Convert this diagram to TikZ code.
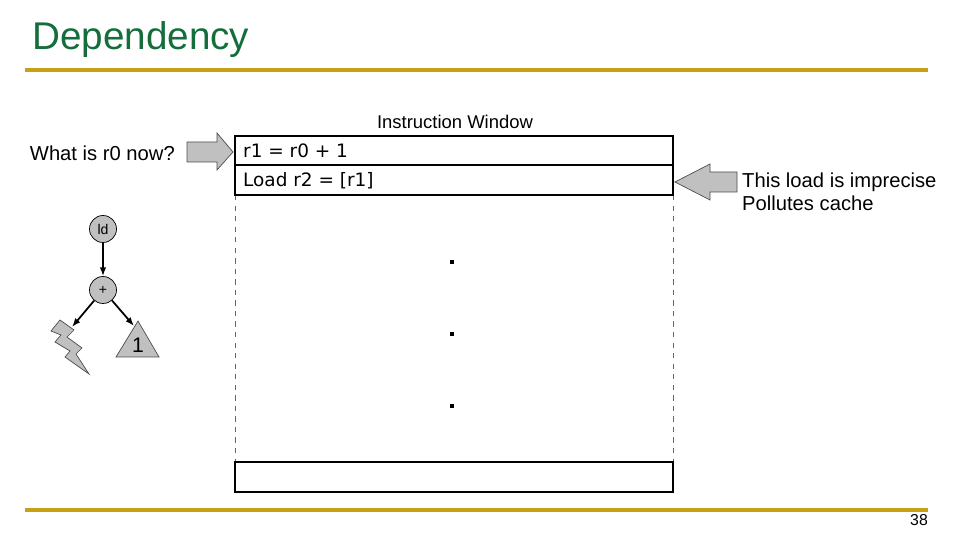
\documentclass[tikz,border=0pt]{standalone}
\usepackage{fontspec}
\setmainfont{Liberation Sans}
\newfontfamily\tahoma{DejaVu Sans}
\usetikzlibrary{arrows.meta}
\definecolor{titlegreen}{RGB}{20,110,60}
\definecolor{rulegold}{RGB}{200,160,20}
\definecolor{shade}{RGB}{192,192,192}

\begin{document}
\begin{tikzpicture}[x=0.02cm,y=-0.02cm,
    opnode/.style={shape=circle,draw=black,fill=shade,minimum size=0.54cm,inner sep=0pt,font=\fontsize{8}{9}\selectfont},
    slot/.style={draw=black,line width=1pt},
    fat/.style={draw=black!70,fill=shade},
    link/.style={-{Latex[length=5pt]},line width=1pt}]
    \useasboundingbox (0,0) rectangle (960,540);

    \node[anchor=west,text=titlegreen,font=\fontsize{22}{26}\selectfont] (title) at (26,40) {Dependency};
    \draw[rulegold,line width=1.8pt] (25,70) -- (928,70);
    \draw[rulegold,line width=1.8pt] (25,510) -- (928,510);
    \node[font=\fontsize{9}{10}\selectfont] (page) at (919,520) {38};

    \node[font=\fontsize{10.5}{12}\selectfont] (wlabel) at (455,122) {Instruction Window};
    \draw[black!60,dashed] (235,195) -- (235,462);
    \draw[black!60,dashed] (673,195) -- (673,462);
    \draw[slot] (235,136) rectangle (673,165);
    \draw[slot] (235,165) rectangle (673,195);
    \draw[slot] (235,462) rectangle (673,492);
    \node[anchor=west,font=\tahoma\fontsize{10.5}{12}\selectfont] (i1) at (237,151) {r1 = r0 + 1};
    \node[anchor=west,font=\tahoma\fontsize{10.5}{12}\selectfont] (i2) at (237,181) {Load r2 = [r1]};
    \foreach \y in {262,334,406}
        \fill (450,\y-2) rectangle (454,\y+2);

    \node[anchor=east,font=\fontsize{11.5}{13}\selectfont] (ask) at (181,153) {What is r0 now?};
    \draw[fat] (187,142) -- (217,142) -- (217,133) -- (233,152) -- (217,170) -- (217,162) -- (187,162) -- cycle;
    \node[anchor=west,align=left,font=\fontsize{11.5}{13}\selectfont] (note) at (736,192) {This load is imprecise\\Pollutes cache};
    \draw[fat] (737,172) -- (710,172) -- (710,164) -- (675,182) -- (710,200) -- (710,192) -- (737,192) -- cycle;

    \node[opnode] (ld) at (103,229) {ld};
    \node[opnode] (plus) at (103,290) {+};
    \draw[fat] (138,321) -- (159,357) -- (116,357) -- cycle;
    \node[font=\fontsize{12}{13}\selectfont] (one) at (138,345) {1};
    \draw[fat] (60,320) -- (74,330) -- (67,337) -- (82,348) -- (76,354) -- (89,374) -- (65,357) -- (70,351) -- (55,342) -- (61,335) -- (51,331) -- cycle;
    \coordinate (bolt) at (72,327);
    \coordinate (tip) at (134,326);

    \draw[link] (ld) -- (plus);
    \draw[link] (plus) -- (bolt);
    \draw[link] (plus) -- (tip);
\end{tikzpicture}
\end{document}
